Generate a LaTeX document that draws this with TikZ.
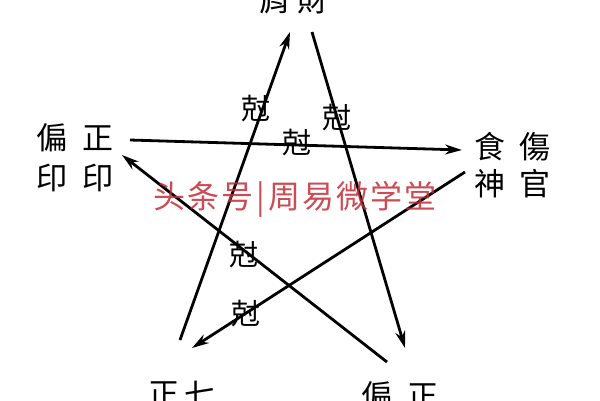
\documentclass[tikz,border=0pt]{standalone}
\usepackage{fontspec}
\usepackage{tikz}
\usetikzlibrary{arrows.meta}
\newfontfamily\tcfont{Noto Sans CJK TC}
\newfontfamily\scfont{Noto Sans CJK SC}
\definecolor{markred}{RGB}{195,45,55}

\begin{document}
\begin{tikzpicture}[x=1pt,y=-1pt,
    god/.style={font=\tcfont\fontsize{31}{31}\selectfont,inner sep=0pt},
    ke/.style={font=\tcfont\fontsize{29}{29}\selectfont,inner sep=0pt},
    kearrow/.style={line width=2.8pt,-{Stealth[length=17pt,width=10pt]}}]
    \fill[white] (0,0) rectangle (600,400);
    \useasboundingbox (0,0) rectangle (600,400);
    \clip (0,0) rectangle (600,400);
    % the five groups of gods
    \node[god] (jian) at (275,0) {肩};
    \node[god] (cai) at (313,0) {財};
    \node[god] (pian) at (52,138) {偏};
    \node[god] (zheng) at (98,138) {正};
    \node[god] (yin1) at (52,178) {印};
    \node[god] (yin2) at (98,178) {印};
    \node[god] (shi) at (490,147) {食};
    \node[god] (shang) at (535,147) {傷};
    \node[god] (shen) at (490,184) {神};
    \node[god] (guan) at (535,184) {官};
    \node[god] (zhengguan) at (164,394) {正};
    \node[god] (qisha) at (200,394) {七};
    \node[god] (piancai) at (377,396) {偏};
    \node[god] (zhengcai) at (423,396) {正};
    % ends of the arrows
    \coordinate (top-in) at (290,32);
    \coordinate (top-out) at (312,32);
    \coordinate (yin-in) at (122,155);
    \coordinate (yin-out) at (130,140);
    \coordinate (shi-in) at (462,150);
    \coordinate (shi-out) at (465,172);
    \coordinate (guan-in) at (192,348);
    \coordinate (guan-out) at (180,340);
    \coordinate (cai-in) at (405,348);
    \coordinate (cai-out) at (387,362);
    \draw[kearrow] (guan-out) -- (top-in);
    \draw[kearrow] (top-out) -- (cai-in);
    \draw[kearrow] (cai-out) -- (yin-in);
    \draw[kearrow] (yin-out) -- (shi-in);
    \draw[kearrow] (shi-out) -- (guan-in);
    % ke labels
    \node[ke] (ke1) at (256,109) {尅};
    \node[ke] (ke2) at (337,118) {尅};
    \node[ke] (ke3) at (297,143) {尅};
    \node[ke] (ke4) at (244,255) {尅};
    \node[ke] (ke5) at (246,314) {尅};
    % watermark
    \node[font=\scfont\fontsize{32}{32}\selectfont,text=markred,
        opacity=0.85,inner sep=0pt] (mark) at (295,199)
        {头\hspace{2pt}条\hspace{2pt}号\hspace{3pt}|\hspace{3pt}周\hspace{2pt}易\hspace{2pt}微\hspace{2pt}学\hspace{2pt}堂};
\end{tikzpicture}
\end{document}
